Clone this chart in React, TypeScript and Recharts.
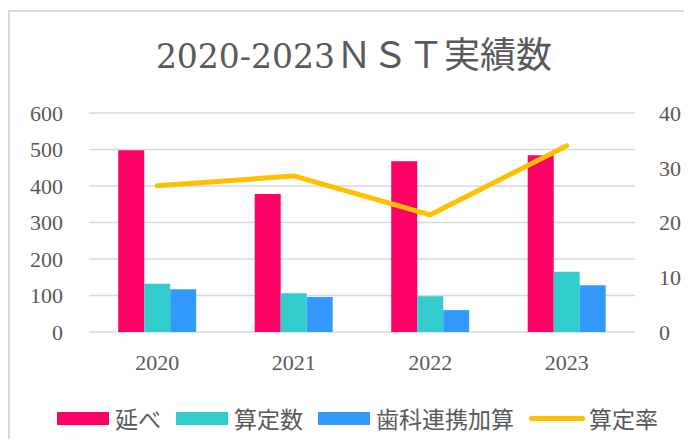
import React from "react";
import {
  ComposedChart,
  Bar,
  Line,
  XAxis,
  YAxis,
  CartesianGrid,
} from "recharts";

// values
const years = ["2020", "2021", "2022", "2023"];
const nobe = [498, 378, 468, 484]; // 延べ
const santei = [132, 106, 98, 165]; // 算定数
const shika = [117, 96, 60, 128]; // 歯科連携加算
const rate = [26.7, 28.5, 21.4, 34.0]; // 算定率 (right axis)

const leftTicks = [0, 100, 200, 300, 400, 500, 600];
const rightTicks = [0, 10, 20, 30, 40];

const PINK = "#FF0066";
const TEAL = "#33CCCC";
const BLUE = "#3399FF";
const GOLD = "#FFC000";
const GRID = "#D9D9D9";
const TEXT = "#595959";

const SERIF = "Liberation Serif";
const TITLE_SERIF = '"DejaVu Serif", serif';
const CJK = '"Noto Sans CJK JP", "Noto Sans", sans-serif';

const data = years.map((y, i) => ({
  year: y,
  nobe: nobe[i],
  santei: santei[i],
  shika: shika[i],
  rate: rate[i],
}));

const legendItems = [
  { label: "延べ", color: PINK, kind: "bar" },
  { label: "算定数", color: TEAL, kind: "bar" },
  { label: "歯科連携加算", color: BLUE, kind: "bar" },
  { label: "算定率", color: GOLD, kind: "line" },
];

function ChartLegend() {
  return (
    <div
      style={{
        position: "absolute",
        top: 394,
        left: 47,
        height: 24,
        display: "flex",
        alignItems: "center",
        fontFamily: CJK,
        fontSize: 23,
        color: TEXT,
        whiteSpace: "nowrap",
      }}
    >
      {legendItems.map((item) => (
        <div
          key={item.label}
          style={{ display: "flex", alignItems: "center", marginRight: 15 }}
        >
          {item.kind === "bar" ? (
            <div style={{ width: 52, height: 13, background: item.color }} />
          ) : (
            <div
              style={{
                width: 56,
                height: 5,
                borderRadius: 3,
                background: item.color,
              }}
            />
          )}
          <span style={{ marginLeft: item.kind === "bar" ? 6 : 4, lineHeight: "24px" }}>
            {item.label}
          </span>
        </div>
      ))}
    </div>
  );
}

export default function App() {
  return (
    <div
      style={{
        position: "relative",
        width: 684,
        height: 429,
        marginTop: 2,
        borderLeft: `2px solid ${GRID}`,
        borderTop: `2px solid ${GRID}`,
        boxSizing: "border-box",
        background: "#fff",
        overflow: "hidden",
      }}
    >
      {/* title: digits in serif, the rest in the CJK font */}
      <svg
        width={682}
        height={80}
        style={{ position: "absolute", top: 0, left: 0 }}
      >
        <text
          x={325}
          y={56}
          textAnchor="end"
          fill={TEXT}
          fontSize={33}
          fontFamily={TITLE_SERIF}
        >
          2020-2023
        </text>
        <text
          x={326}
          y={56}
          textAnchor="start"
          fill={TEXT}
          fontSize={36}
          fontFamily={CJK}
        >
          ＮＳＴ実績数
        </text>
      </svg>

      <div style={{ position: "absolute", top: 0, left: 0 }}>
        <ComposedChart
          width={682}
          height={370}
          data={data}
          margin={{ top: 101, right: 0, left: 0, bottom: 0 }}
          barCategoryGap="21.4%"
          barGap={0}
        >
          <CartesianGrid
            vertical={false}
            stroke={GRID}
            strokeWidth={1.5}
            yAxisId="left"
          />
          <XAxis
            dataKey="year"
            height={50}
            axisLine={false}
            tickLine={false}
            tickSize={0}
            tickMargin={22}
            tick={{ fill: TEXT, fontFamily: SERIF, fontSize: 22 }}
          />
          <YAxis
            yAxisId="left"
            width={79}
            domain={[0, 600]}
            ticks={leftTicks}
            axisLine={false}
            tickLine={false}
            tickSize={0}
            tickMargin={26}
            tick={{ fill: TEXT, fontFamily: SERIF, fontSize: 22 }}
          />
          <YAxis
            yAxisId="right"
            orientation="right"
            width={57}
            domain={[0, 40]}
            ticks={rightTicks}
            axisLine={false}
            tickLine={false}
            tickSize={0}
            tickMargin={24}
            tick={{ fill: TEXT, fontFamily: SERIF, fontSize: 22, textAnchor: "start" }}
          />
          <Bar yAxisId="left" dataKey="nobe" name="延べ" fill={PINK} isAnimationActive={false} />
          <Bar yAxisId="left" dataKey="santei" name="算定数" fill={TEAL} isAnimationActive={false} />
          <Bar yAxisId="left" dataKey="shika" name="歯科連携加算" fill={BLUE} isAnimationActive={false} />
          <Line
            yAxisId="right"
            dataKey="rate"
            name="算定率"
            type="linear"
            stroke={GOLD}
            strokeWidth={5}
            strokeLinecap="round"
            strokeLinejoin="round"
            dot={false}
            activeDot={false}
            isAnimationActive={false}
          />
        </ComposedChart>
      </div>

      <ChartLegend />
    </div>
  );
}
